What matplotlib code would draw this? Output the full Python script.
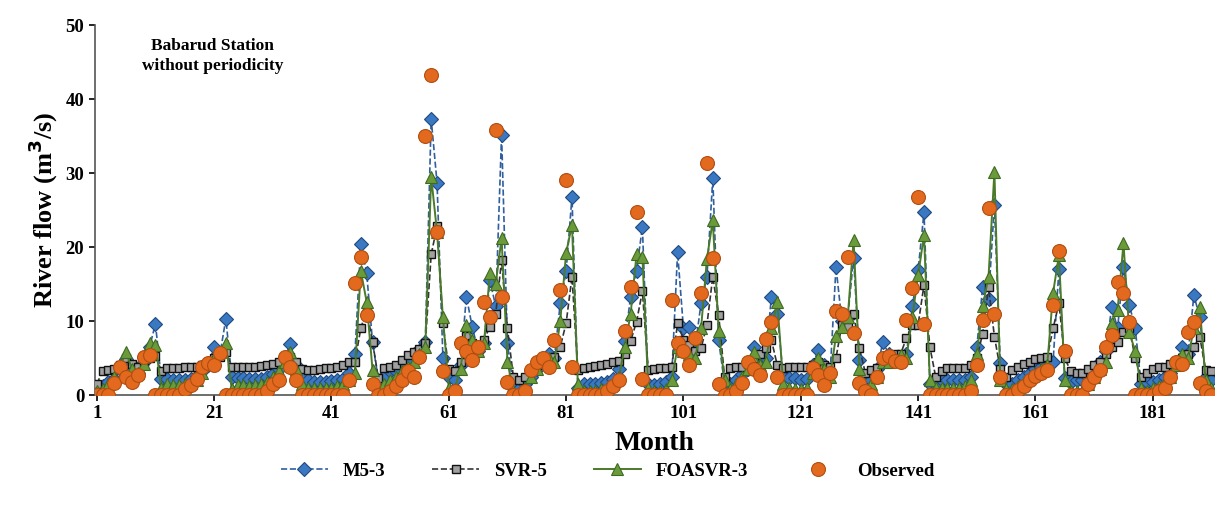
import numpy as np
import matplotlib.pyplot as plt

plt.rcParams['font.family'] = ['Liberation Serif', 'DejaVu Serif']
plt.rcParams['font.weight'] = 'bold'

# monthly river flow (m3/s), months 1..191
observed = [
    0, 0, 0, 1.6, 3.8, 2.5, 1.8, 2.7, 5.2, 5.4, 0, 0,
    0, 0, 0, 0.8, 1.3, 2.2, 3.8, 4.3, 4.0, 5.7, 0, 0,
    0, 0, 0, 0, 0, 0.5, 1.5, 2.0, 5.2, 3.8, 2.0, 0,
    0, 0, 0, 0, 0, 0, 0, 2.0, 15.2, 18.6, 10.8, 1.5,
    0, 0, 0.5, 1.2, 2.0, 3.2, 2.5, 5.2, 35.0, 43.2, 22.0, 3.2,
    0, 0.5, 7.0, 5.9, 4.7, 6.5, 12.6, 10.6, 35.8, 13.3, 1.8, 0,
    0, 0.5, 3.4, 4.5, 5.0, 3.8, 7.4, 14.2, 29.0, 3.8, 0, 0,
    0, 0, 0, 0.5, 1.2, 2.0, 8.6, 14.6, 24.8, 2.2, 0, 0,
    0, 0, 12.8, 7.0, 5.9, 4.1, 7.7, 13.8, 31.4, 18.5, 1.5, 0,
    0, 0.5, 1.6, 4.5, 3.5, 2.7, 7.6, 9.9, 2.5, 0, 0, 0,
    0, 0, 3.6, 2.7, 1.4, 3.0, 11.3, 11.0, 18.6, 8.4, 1.6, 0.5,
    0, 2.5, 5.0, 5.3, 4.6, 4.4, 10.1, 14.4, 26.8, 9.6, 0, 0,
    0, 0, 0, 0, 0, 0.5, 4.0, 10.1, 25.3, 11.0, 2.4, 0,
    0, 0.7, 1.2, 2.0, 2.6, 3.0, 3.4, 12.2, 19.5, 5.9, 0, 0,
    0, 1.5, 2.5, 3.4, 6.5, 8.1, 15.3, 13.8, 9.9, 0, 0, 0,
    0, 0.5, 1.0, 2.4, 4.5, 4.2, 8.5, 9.9, 1.6, 0.5, 0,
]

m5_3 = [
    0.5, 1.2, 1.8, 2.2, 3.5, 4.8, 3.2, 3.0, 4.5, 6.5, 9.6, 2.2,
    2.2, 2.0, 2.0, 2.0, 2.2, 2.6, 3.2, 4.0, 6.5, 5.5, 10.3, 2.5,
    2.3, 2.3, 2.2, 2.2, 2.2, 2.4, 2.8, 3.5, 5.0, 6.9, 4.0, 2.5,
    2.0, 1.8, 1.8, 1.8, 1.9, 2.0, 2.2, 3.0, 5.5, 20.4, 16.5, 7.2,
    2.0, 2.5, 3.2, 3.3, 4.2, 4.8, 5.5, 6.0, 7.2, 37.3, 28.7, 5.0,
    2.5, 2.0, 4.0, 13.3, 9.2, 6.0, 7.0, 15.5, 12.0, 35.2, 7.0, 1.0,
    0.8, 1.5, 2.5, 3.5, 4.5, 5.5, 5.0, 12.4, 16.7, 26.8, 1.0, 1.5,
    1.5, 1.5, 1.6, 1.8, 2.2, 3.5, 7.3, 13.3, 16.8, 22.7, 1.5, 1.3,
    1.5, 1.8, 2.5, 19.3, 9.0, 9.2, 6.5, 12.4, 16.0, 29.3, 7.4, 1.5,
    1.5, 2.0, 2.8, 3.5, 6.5, 4.5, 5.0, 13.3, 11.0, 2.5, 2.3, 2.3,
    2.0, 2.2, 4.0, 6.1, 4.0, 3.0, 17.3, 10.0, 10.5, 18.5, 4.7, 1.5,
    2.0, 3.5, 7.2, 5.5, 5.0, 5.0, 5.5, 12.0, 16.9, 24.7, 1.5, 1.3,
    2.0, 2.0, 2.0, 2.0, 2.0, 2.5, 6.5, 14.6, 13.0, 25.7, 4.3, 1.5,
    1.5, 2.0, 2.5, 3.0, 3.5, 3.8, 4.2, 4.5, 17.0, 2.3, 1.8, 2.0,
    2.0, 2.5, 3.5, 4.5, 6.0, 11.9, 9.0, 17.3, 12.2, 9.0, 1.5, 1.8,
    1.8, 2.0, 2.5, 3.0, 4.5, 6.5, 5.5, 13.5, 10.5, 2.5, 2.0,
]

svr_5 = [
    1.5, 3.2, 3.4, 3.5, 4.0, 5.0, 4.2, 3.8, 4.5, 5.0, 5.3, 3.3,
    3.6, 3.7, 3.7, 3.8, 3.8, 3.8, 4.0, 4.5, 5.0, 5.2, 5.8, 3.8,
    3.8, 3.8, 3.8, 3.8, 3.9, 4.0, 4.2, 4.5, 5.0, 5.2, 4.5, 3.5,
    3.4, 3.4, 3.5, 3.6, 3.7, 3.8, 4.0, 4.4, 4.5, 9.0, 11.5, 7.2,
    2.3, 3.6, 3.8, 4.0, 4.7, 5.4, 5.8, 6.2, 7.0, 19.0, 22.8, 9.7,
    3.5, 3.3, 4.5, 8.0, 7.0, 6.5, 7.5, 9.2, 11.0, 18.2, 9.0, 2.5,
    2.0, 2.5, 3.2, 4.0, 4.5, 5.0, 5.2, 6.5, 9.7, 16.0, 3.4, 3.6,
    3.8, 3.9, 4.0, 4.2, 4.4, 4.6, 5.5, 7.3, 9.9, 14.0, 3.4, 3.5,
    3.6, 3.7, 3.8, 9.7, 7.5, 6.8, 6.0, 6.3, 9.5, 16.0, 10.8, 2.5,
    3.6, 3.8, 3.8, 4.2, 5.0, 5.5, 6.4, 7.4, 4.0, 3.6, 3.8, 3.8,
    3.8, 3.8, 4.0, 4.5, 4.0, 3.8, 5.0, 9.5, 9.2, 11.0, 6.3, 3.0,
    3.4, 3.6, 4.5, 5.2, 5.5, 5.5, 7.7, 9.5, 9.5, 14.9, 6.5, 2.4,
    3.3, 3.6, 3.6, 3.6, 3.7, 4.0, 5.0, 8.3, 14.6, 7.9, 3.5, 2.5,
    3.4, 3.8, 4.2, 4.5, 4.8, 5.0, 5.1, 9.0, 12.4, 5.0, 3.2, 3.0,
    3.0, 3.5, 4.0, 4.5, 5.5, 6.5, 7.2, 8.5, 9.0, 5.0, 2.4, 3.0,
    3.5, 3.8, 3.8, 4.2, 4.5, 5.0, 5.5, 6.5, 7.9, 3.4, 3.2,
]

foasvr_3 = [
    0.5, 0.8, 1.5, 2.5, 4.0, 5.8, 3.5, 3.0, 4.2, 7.0, 6.8, 1.0,
    1.5, 1.4, 1.4, 1.5, 1.6, 2.0, 3.0, 4.2, 5.0, 5.8, 7.0, 0.8,
    1.3, 1.3, 1.2, 1.3, 1.5, 1.8, 2.5, 3.2, 4.5, 5.8, 3.5, 1.5,
    1.0, 0.9, 0.9, 1.0, 1.0, 1.2, 1.5, 2.0, 3.0, 16.8, 12.6, 3.4,
    1.0, 1.5, 2.0, 2.5, 3.2, 3.8, 4.5, 5.5, 6.5, 29.5, 22.0, 10.5,
    1.0, 0.8, 3.5, 9.5, 7.5, 6.0, 7.0, 16.5, 15.0, 21.2, 4.5, 0.5,
    0.3, 1.0, 2.5, 3.5, 4.5, 5.0, 4.5, 10.0, 19.2, 23.0, 1.5, 0.5,
    0.5, 0.6, 0.8, 1.0, 1.5, 2.5, 6.5, 11.0, 19.0, 18.7, 1.0, 0.5,
    0.5, 0.8, 2.0, 6.5, 6.0, 5.5, 5.0, 9.0, 18.4, 23.6, 8.6, 2.0,
    0.8, 1.5, 2.5, 3.5, 5.8, 4.0, 4.5, 9.0, 12.6, 1.5, 1.0, 0.8,
    0.8, 1.0, 3.0, 5.0, 3.5, 2.5, 8.0, 9.2, 10.5, 21.0, 3.5, 1.0,
    1.5, 2.5, 4.5, 4.5, 4.8, 5.4, 5.0, 10.5, 16.2, 21.6, 2.0, 1.0,
    1.0, 1.0, 1.0, 1.0, 1.2, 2.0, 5.5, 12.0, 16.0, 30.2, 2.0, 0.8,
    0.8, 1.2, 1.8, 2.5, 3.0, 3.5, 4.0, 13.8, 18.9, 2.0, 0.5, 0.5,
    0.5, 1.5, 2.5, 3.5, 4.5, 9.7, 11.5, 20.5, 8.5, 5.9, 1.0, 0.5,
    1.0, 1.2, 1.8, 2.5, 4.0, 5.5, 5.0, 9.0, 11.9, 2.0, 1.0,
]

month = np.arange(1, len(observed) + 1)
xticks = [1, 21, 41, 61, 81, 101, 121, 141, 161, 181]

fig = plt.figure(figsize=(12.15, 5.12), dpi=100)
ax = fig.add_axes([0.078, 0.2285, 0.922, 0.7225])

ax.plot(month, m5_3, ls='--', lw=1.2, c='#2f5f9e', marker='D', ms=7,
        mfc='#3a78c2', mec='#1f4a80', mew=0.8, label='M5-3', zorder=2)
ax.plot(month, svr_5, ls='--', lw=1.2, c='#333333', marker='s', ms=5.5,
        mfc='#a0a0a0', mec='#111111', mew=1.0, label='SVR-5', zorder=3)
ax.plot(month, foasvr_3, ls='-', lw=1.4, c='#4a7a2a', marker='^', ms=8.5,
        mfc='#6a9a3a', mec='#3e6a22', mew=0.8, label='FOASVR-3', zorder=4)
ax.plot(month, observed, ls='none', marker='o', ms=10,
        mfc='#e2691e', mec='#b04e10', mew=0.8, label='Observed', zorder=5)

ax.set_xlim(0.66, 191.6)
ax.set_ylim(0, 50)
ax.set_xticks(xticks)
ax.set_yticks(range(0, 51, 10))
ax.tick_params(labelsize=13.5, direction='out', length=4, width=1.2)
for s in ['top', 'right']:
    ax.spines[s].set_visible(False)
for s in ['left', 'bottom']:
    ax.spines[s].set_linewidth(1.2)
    ax.spines[s].set_color('#555555')

ax.set_xlabel('Month', fontsize=20, fontweight='bold', labelpad=6)
ax.set_ylabel('River flow (m$\\mathbf{^3}$/s)', fontsize=19, fontweight='bold')

ax.text(0.105, 0.965, 'Babarud Station\nwithout periodicity', transform=ax.transAxes,
        ha='center', va='top', fontsize=12.5, fontweight='bold', linespacing=1.3)

fig.legend(loc='center', bbox_to_anchor=(0.5, 0.08), ncol=4, frameon=False,
           prop={'size': 13.5, 'weight': 'bold'}, handlelength=2.5, columnspacing=2.5)

fig.savefig('out.png', dpi=100)
